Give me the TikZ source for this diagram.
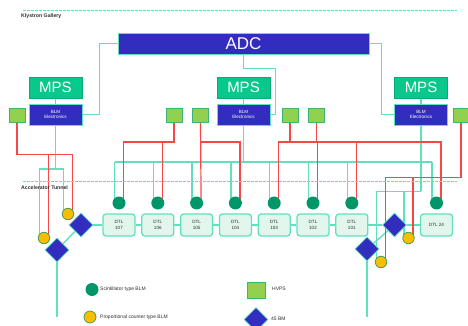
\documentclass[tikz,border=0pt]{standalone}
\usepackage{fontspec}
\setmainfont{Liberation Sans}
\usetikzlibrary{shapes.geometric,backgrounds,calc}
\definecolor{blmblue}{RGB}{50,45,190}
\definecolor{mpsgreen}{RGB}{10,200,140}
\definecolor{tealline}{RGB}{95,225,190}
\definecolor{redline}{RGB}{250,70,70}
\definecolor{hvfill}{RGB}{146,208,80}
\definecolor{hvborder}{RGB}{60,180,120}
\definecolor{scintc}{RGB}{0,150,105}
\definecolor{propfill}{RGB}{250,190,0}
\definecolor{propborder}{RGB}{70,160,90}
\definecolor{dtlfill}{RGB}{226,246,238}
\definecolor{txt}{RGB}{45,45,45}
\tikzset{
  bluebox/.style={rectangle,fill=blmblue,draw=tealline,line width=0.7pt,text=white,inner sep=0pt,align=center},
  mpsbox/.style={rectangle,fill=mpsgreen,draw=mpsgreen!85!black,line width=0.4pt,text=white,inner sep=0pt,minimum width=53pt,minimum height=21pt,font=\fontsize{15}{15}\selectfont},
  blmbox/.style={bluebox,minimum width=53pt,minimum height=21pt,font=\fontsize{4.6}{5.4}\selectfont},
  hvsq/.style={rectangle,fill=hvfill,draw=hvborder,line width=0.8pt,minimum width=16pt,minimum height=14pt,inner sep=0pt},
  dtlbox/.style={rectangle,rounded corners=3pt,fill=dtlfill,draw=tealline,line width=1.3pt,minimum width=32pt,minimum height=22pt,inner sep=0pt,align=center,text=txt,font=\fontsize{4.6}{5.6}\selectfont},
  scint/.style={circle,fill=scintc,minimum size=13pt,inner sep=0pt},
  prop/.style={circle,fill=propfill,draw=propborder,line width=0.8pt,minimum size=11.5pt,inner sep=0pt},
  bm/.style={diamond,fill=blmblue,draw=tealline,line width=0.7pt,minimum size=24pt,inner sep=0pt},
  tl/.style={draw=tealline,line width=1.4pt},
  rl/.style={draw=redline,line width=1.2pt},
  dashline/.style={draw=tealline,line width=1pt,dash pattern=on 2.5pt off 1.5pt},
  lbl/.style={anchor=west,inner sep=0pt,text=txt,font=\fontsize{5}{6}\selectfont},
}
\begin{document}
\begin{tikzpicture}[x=1pt,y=-1pt]
\useasboundingbox (0,0) rectangle (468,326);

% dashed separators
\coordinate (dkA) at (23,11);
\coordinate (dkB) at (457,11);
\coordinate (dtA) at (23,181);
\coordinate (dtB) at (457,181);
\draw[dashline] (dkA) -- (dkB);
\draw[dashline] (dtA) -- (dtB);
\node[lbl,font=\bfseries\fontsize{5.2}{6}\selectfont] (klys) at (21,16.5) {Klystron Gallery};
\node[lbl,font=\bfseries\fontsize{5.2}{6}\selectfont] (tunn) at (21,188) {Accelerator Tunnel};

% top boxes
\node[bluebox,minimum width=251pt,minimum height=21pt,font=\fontsize{17}{17}\selectfont] (adc) at (243.5,43.5) {ADC};
\node[mpsbox] (mpsL) at (55.5,87.5) {MPS};
\node[mpsbox] (mpsM) at (243.5,87.5) {MPS};
\node[mpsbox] (mpsR) at (421,87.5) {MPS};
\node[blmbox] (blmL) at (55.5,114.5) {BLM\\Electronics};
\node[blmbox] (blmM) at (243.5,114.5) {BLM\\Electronics};
\node[blmbox] (blmR) at (421,114.5) {BLM\\Electronics};

% HVPS squares
\node[hvsq] (hvL) at (17,115) {};
\node[hvsq] (hvA) at (174,115) {};
\node[hvsq] (hvB) at (200.5,115) {};
\node[hvsq] (hvC) at (290,115) {};
\node[hvsq] (hvD) at (316.5,115) {};
\node[hvsq] (hvR) at (461,115) {};

% DTL boxes
\node[dtlbox] (t1) at (119,225) {DTL\\107};
\node[dtlbox] (t2) at (157.8,225) {DTL\\106};
\node[dtlbox] (t3) at (196.6,225) {DTL\\105};
\node[dtlbox] (t4) at (235.4,225) {DTL\\104};
\node[dtlbox] (t5) at (274.2,225) {DTL\\103};
\node[dtlbox] (t6) at (313,225) {DTL\\102};
\node[dtlbox] (t7) at (351.8,225) {DTL\\101};
\node[dtlbox] (t8) at (436.5,225) {DTL 24};

% scintillator BLMs
\foreach \i in {1,...,8}{\node[scint] (s\i) at ($(t\i.center)+(0,-22)$) {};}

% proportional counters
\node[prop] (p1) at (68,214) {};
\node[prop] (p2) at (44,238) {};
\node[prop] (p3) at (408.5,238) {};
\node[prop] (p4) at (381,262) {};

% 45 BM diamonds
\node[bm] (d1) at (81,225) {};
\node[bm] (d2) at (57,250) {};
\node[bm] (d3) at (394.5,225) {};
\node[bm] (d4) at (367,249) {};
\coordinate (endL) at (57,317);
\coordinate (endR) at (367,317);

% legend
\node[scint] (lgS) at (92,289.5) {};
\node[lbl] (lgSt) at (100,289.5) {Scintillator type BLM};
\node[prop,minimum size=12pt] (lgP) at (90,317) {};
\node[lbl] (lgPt) at (100,317) {Proportional counter type BLM};
\node[hvsq,minimum width=18pt,minimum height=16pt] (lgH) at (256,290) {};
\node[lbl] (lgHt) at (272,289) {HVPS};
\node[bm] (lgD) at (256,319.5) {};
\node[lbl] (lgDt) at (271,319) {45 BM};

\begin{pgfonlayer}{background}
% teal wiring, gallery
\draw[tl] (adc.west) -- ++(-18,0) |- (blmL.east);
\draw[tl] (adc.south) -- ++(0,14) -| ([xshift=5pt]blmM.east) -- (blmM.east);
\draw[tl] (adc.east) -- ++(12,0) |- (blmR.west);
\draw[tl] (mpsL.south) -- (blmL.north);
\draw[tl] (mpsM.south) -- (blmM.north);
\draw[tl] (mpsR.south) -- (blmR.north);
% left fork
\draw[tl] (blmL.south) -- ++(0,43.5) coordinate (fL);
\draw[tl] ([xshift=-4.5pt]p2.center) |- (fL) -| ([xshift=-4.5pt]p1.center);
% bus
\foreach \i in {1,...,8}{\draw[tl] ([xshift=-4.5pt]s\i.center) -- ++(0,-41);}
\draw[tl] ($(s1.center)+(-4.5,-41)$) -- ($(s8.center)+(-4.5,-41)$);
\draw[tl] (blmM.south) -- ++(0,37.5);
% right fork
\draw[tl] (blmR.south) -- ++(0,66) coordinate (fR);
\draw[tl] ([xshift=-4.5pt]p4.center) |- (fR);
\draw[tl] ([xshift=-4.5pt]p3.center) |- (fR);
% beam line
\draw[tl] (d1) -- (t1) -- (t2) -- (t3) -- (t4) -- (t5) -- (t6) -- (t7) -- (d3) -- (t8);
\draw[tl] (d1) -- (d2);
\draw[tl] (d3) -- (d4);
\draw[tl] (d2) -- (endL);
\draw[tl] (d4) -- (endR);

% red wiring
\draw[rl] (hvL.south) -- ++(0,32) coordinate (rL) -| ([xshift=4.5pt]p1.center);
\draw[rl] ([xshift=4.5pt]p2.center) |- (rL);
\draw[rl] (hvA.south) |- ($(s1.center)+(4.5,-61)$) -- ([xshift=4.5pt]s1.center);
\draw[rl] ([xshift=4.5pt]s2.center) -- ++(0,-61);
\draw[rl] (hvB.south) -- ([xshift=4.5pt]s3.center);
\draw[rl] ($(s3.center)+(4.5,-61)$) -| ([xshift=4.5pt]s4.center);
\draw[rl] ([xshift=4.5pt]s5.center) |- ($(s8.center)+(4.5,-61)$) -- ([xshift=4.5pt]s8.center);
\draw[rl] ([xshift=4.5pt]s6.center) -- ++(0,-61);
\draw[rl] ([xshift=4.5pt]s7.center) -- ++(0,-61);
\draw[rl] (hvC.south) -- ++(0,20);
\draw[rl] (hvD.south) -- ++(0,20);
\draw[rl] (hvR.south) -- ++(0,55) coordinate (rR) -| ([xshift=4.5pt]p4.center);
\draw[rl] ([xshift=4.5pt]p3.center) |- (rR);
\end{pgfonlayer}
\end{tikzpicture}
\end{document}
